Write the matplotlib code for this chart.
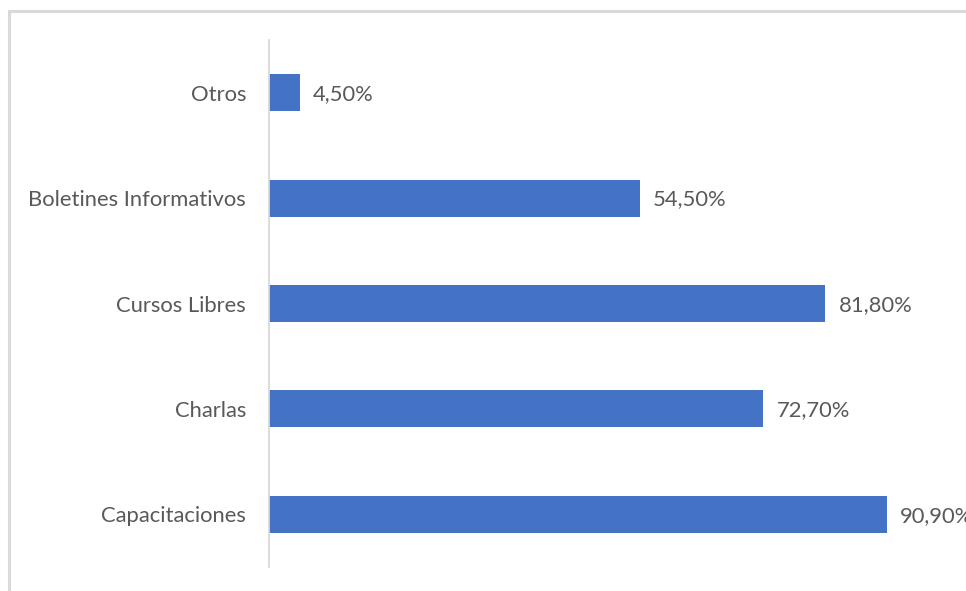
import matplotlib.pyplot as plt
from matplotlib.patches import Rectangle

categorias = ['Capacitaciones', 'Charlas', 'Cursos Libres', 'Boletines Informativos', 'Otros']
valores = [90.9, 72.7, 81.8, 54.5, 4.5]
etiquetas = ['90,90%', '72,70%', '81,80%', '54,50%', '4,50%']

plt.rcParams['font.family'] = ['Lato', 'DejaVu Sans']
gris = '#595959'

fig = plt.figure(figsize=(9.66, 5.91), dpi=100)
W, H = 966, 591

# marco exterior del grafico
fig.patches.append(Rectangle((9 / W, -0.1), 1.2, (H - 11) / H + 0.1, transform=fig.transFigure,
                             fill=False, edgecolor='#d9d9d9', linewidth=2.2, zorder=0))

ax = fig.add_axes([269 / W, 1 - 567 / H, 1 - 269 / W, (567 - 40) / H])
pos = range(len(categorias))
ax.barh(pos, valores, height=0.35, color='#4472c4')
ax.set_xlim(0, (W - 269) / 6.8)
ax.set_ylim(-0.5, 4.5)

for y, v, t in zip(pos, valores, etiquetas):
    ax.annotate(t, (v, y), xytext=(9.5, -1), textcoords='offset points',
                va='center', ha='left', fontsize=15.8, color=gris, annotation_clip=False)

ax.set_yticks(list(pos))
ax.set_yticklabels(categorias, fontsize=15.8, color=gris)
ax.tick_params(axis='y', length=0, pad=16.5)
ax.set_xticks([])
for s in ['top', 'right', 'bottom']:
    ax.spines[s].set_visible(False)
ax.spines['left'].set_color('#d9d9d9')
ax.spines['left'].set_linewidth(1.3)

fig.savefig('out.png', dpi=100)
